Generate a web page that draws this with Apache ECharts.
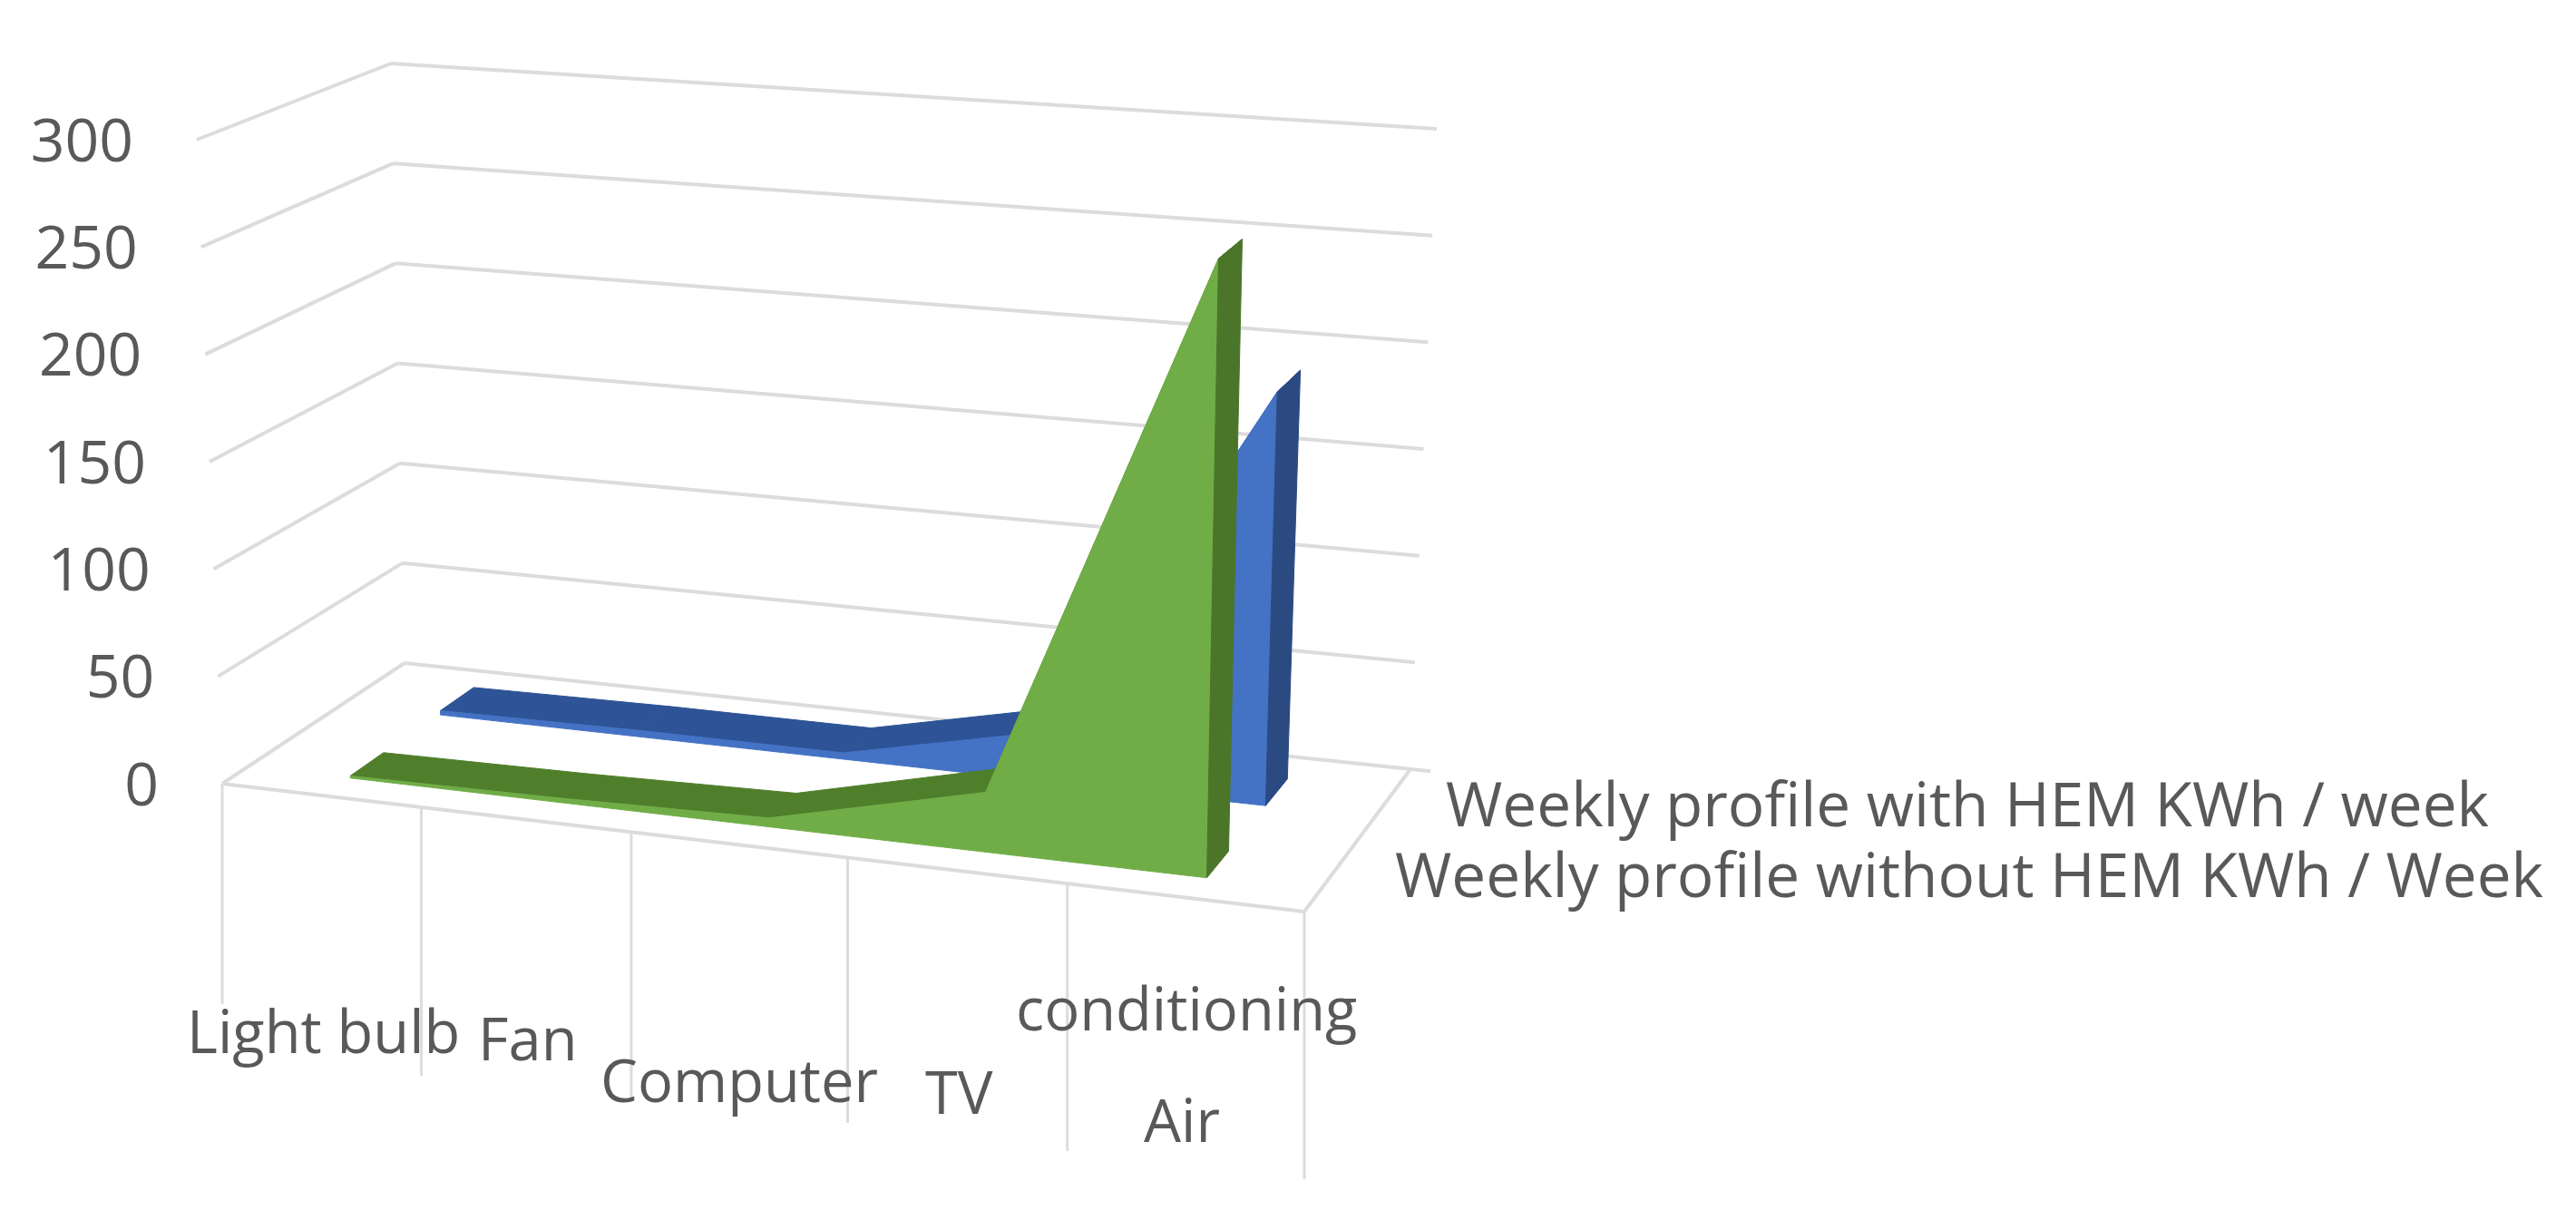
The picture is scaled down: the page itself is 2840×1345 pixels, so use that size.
<!DOCTYPE html>
<html>
<head>
<meta charset="utf-8">
<title>Weekly profile</title>
<script src="https://cdn.jsdelivr.net/npm/echarts@6/dist/echarts.min.js"></script>
<style>
  html, body { margin: 0; background: #fff; }
  #main { width: 2840px; height: 1345px; }
</style>
</head>
<body>
<div id="main"></div>
<script>
// data
const categories = ['Light bulb', 'Fan', 'Computer', 'TV', 'Air conditioning']
const withHem = [2, 3, 3, 24, 191]
const withoutHem = [1, 2, 4, 27, 277]
const seriesNames = ['Weekly profile with HEM KWh / week', 'Weekly profile without HEM KWh / Week']
const yTicks = [0, 50, 100, 150, 200, 250, 300]

// box corners in page pixels [x, y]: f/b = front/back, l/r = left/right, 0/1 = floor/top
const box = {
  fl0: [245, 864], fr0: [1438, 1005], bl0: [446, 731], br0: [1555, 848],
  fl1: [217, 154], fr1: [1455, 255], bl1: [431, 70], br1: [1584, 142]
}
const mix = (a, b, t) => [a[0] + (b[0] - a[0]) * t, a[1] + (b[1] - a[1]) * t]
// u along the categories, d into the depth, v up the value axis, all 0..1
function project (u, d, v) {
  const floor = mix(mix(box.fl0, box.fr0, u), mix(box.bl0, box.br0, u), d)
  const top = mix(mix(box.fl1, box.fr1, u), mix(box.bl1, box.br1, u), d)
  return mix(floor, top, v)
}
// the near categories are drawn a little wider than the far ones
const warp = u => u / (1 + 0.06 * (1 - u))

const font = '"Open Sans", sans-serif'
const textColor = '#595959'
const lineColor = '#dcdcdc'
const tickU = [0, 0.184, 0.378, 0.578, 0.781, 1]
const tickEnd = [1107, 1186, 1212, 1238, 1269, 1300]
const catLabels = [
  { text: 'Light bulb', x: 206, y: 1142 },
  { text: 'Fan', x: 527, y: 1150 },
  { text: 'Computer', x: 662, y: 1196 },
  { text: 'TV', x: 1020, y: 1209 },
  { text: 'conditioning', x: 1120, y: 1117 },
  { text: 'Air', x: 1261, y: 1240 }
]
const nameLabels = [{ x: 1594, y: 892 }, { x: 1538, y: 970 }]

function line (a, b, width) {
  return {
    type: 'line',
    shape: { x1: a[0], y1: a[1], x2: b[0], y2: b[1] },
    style: { stroke: lineColor, lineWidth: width || 4 }
  }
}
function label (text, x, y, size, align) {
  return {
    type: 'text',
    style: { text, x, y, fill: textColor, fontFamily: font, fontSize: size, align: align || 'left', verticalAlign: 'middle' }
  }
}
function poly (points, color) {
  return {
    type: 'polygon',
    shape: { points },
    style: { fill: color, stroke: color, lineWidth: 1 }
  }
}

function renderFrame () {
  const children = []
  yTicks.forEach(t => {
    const v = t / 300
    children.push(line(project(0, 0, v), project(0, 1, v)))
    children.push(line(project(0, 1, v), project(t === 0 ? 1.02 : 1, 1, v)))
    const p = project(0, 0, v)
    children.push(label(String(t), p[0] - 70, p[1] + 5, 66, 'right'))
  })
  children.push(line(project(0, 0, 0), project(1, 0, 0)))
  children.push(line(project(1, 0, 0), project(1, 1, 0)))
  tickU.forEach((u, i) => {
    const p = project(u, 0, 0)
    children.push(line(p, [p[0], tickEnd[i]], 3))
  })
  return { type: 'group', children }
}

function renderLabels () {
  const children = catLabels.map(l => label(l.text, l.x, l.y, 65))
  seriesNames.forEach((n, i) => children.push(label(n, nameLabels[i].x, nameLabels[i].y, 67.5)))
  return { type: 'group', children }
}

// one ribbon of the 3D area, drawn one category step at a time
function ribbon (values, dFront, dBack, colors) {
  return function (params, api) {
    const cs = params.coordSys
    const i = api.value(0)
    const norm = (idx, val) => {
      const c = api.coord([idx, val])
      return [warp((c[0] - cs.x) / cs.width), (cs.y + cs.height - c[1]) / cs.height]
    }
    const a = norm(i, values[i])
    const children = []
    if (i < values.length - 1) {
      const b = norm(i + 1, values[i + 1])
      children.push(poly([
        project(a[0], dFront, a[1]), project(b[0], dFront, b[1]),
        project(b[0], dBack, b[1]), project(a[0], dBack, a[1])
      ], colors.top))
      children.push(poly([
        project(a[0], dFront, 0), project(b[0], dFront, 0),
        project(b[0], dFront, b[1]), project(a[0], dFront, a[1])
      ], colors.face))
    } else {
      children.push(poly([
        project(a[0], dFront, 0), project(a[0], dFront, a[1]),
        project(a[0], dBack, a[1]), project(a[0], dBack, 0)
      ], colors.side))
    }
    return { type: 'group', children }
  }
}

const chart = echarts.init(document.getElementById('main'))
chart.setOption({
  animation: false,
  backgroundColor: '#fff',
  grid: { left: 0, right: 0, top: 0, bottom: 0 },
  xAxis: { type: 'category', data: categories, show: false },
  yAxis: { type: 'value', min: 0, max: 300, interval: 50, show: false },
  series: [
    { type: 'custom', name: 'frame', silent: true, z: 1, data: [[0, 0]], renderItem: renderFrame },
    {
      type: 'custom', name: seriesNames[0], silent: true, z: 2,
      data: withHem.map((v, i) => [i, v]),
      renderItem: ribbon(withHem, 0.66, 0.85, { face: '#4472c4', top: '#2e5396', side: '#2b4a82' })
    },
    {
      type: 'custom', name: seriesNames[1], silent: true, z: 3,
      data: withoutHem.map((v, i) => [i, v]),
      renderItem: ribbon(withoutHem, 0.145, 0.335, { face: '#70ad47', top: '#507f2c', side: '#4b7529' })
    },
    { type: 'custom', name: 'labels', silent: true, z: 4, data: [[0, 0]], renderItem: renderLabels }
  ]
})
</script>
</body>
</html>
